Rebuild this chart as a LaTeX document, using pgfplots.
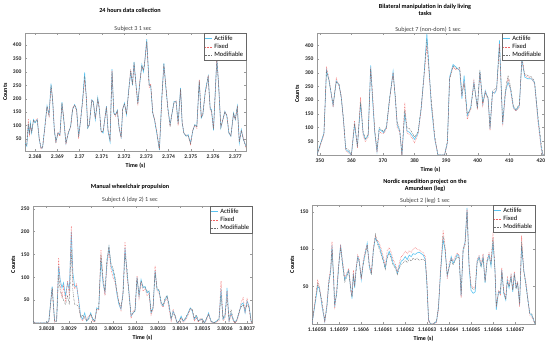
\documentclass[border=0pt]{standalone}
\usepackage{pgfplots}
\pgfplotsset{compat=1.18}
\usepackage{pgfplotstable}
\usepackage{fontspec}
\setmainfont{Carlito}
\definecolor{actblue}{RGB}{90,195,240}
\definecolor{fixred}{RGB}{240,100,100}
\definecolor{modgray}{RGB}{110,110,110}

\pgfplotstableread{
t a f m
-4.5 35 28 32
-3.7 23 30 25
-3.0 103 125 110
-2.5 66 60 70
-2.1 110 95 105
-1.5 72 80 75
-0.7 122 115 120
0 110 118 112
1.0 122 125 120
1.9 48 55 50
2.7 17 12 15
3.4 16 20 18
4.5 103 95 100
5.4 174 170 172
6.3 140 135 138
7.2 256 245 250
7.9 196 200 198
8.7 80 85 82
9.4 40 35 38
10.3 72 75 70
11.2 66 60 65
12.1 187 180 185
12.9 122 130 125
13.9 33 30 35
15.0 72 78 75
16.0 97 92 95
16.9 160 165 162
17.8 178 175 176
18.7 160 155 158
19.6 60 50 58
20.5 122 125 120
21.4 196 190 195
22.3 298 270 285
23.1 196 205 200
23.7 91 95 90
24.4 103 100 105
25.5 196 195 194
26.2 190 185 188
27.1 122 130 125
28.2 203 195 200
28.9 160 165 162
29.7 80 75 78
30.6 72 80 78
31.3 122 118 120
32.1 172 170 168
32.8 80 85 82
33.7 40 50 45
34.6 310 305 300
35.4 147 150 145
36.1 140 135 138
37.0 157 150 155
37.8 91 95 90
38.7 57 50 55
39.4 160 165 162
40.2 184 180 182
41.1 140 145 142
42.1 234 225 230
43.0 300 310 305
43.8 250 255 252
44.5 337 330 335
45.4 250 245 248
46.2 184 175 180
47.1 260 265 262
48.0 327 320 325
48.7 300 310 305
49.2 327 330 328
50.2 422 410 415
51.3 252 240 248
52.0 245 255 250
52.9 147 150 145
53.7 122 125 120
54.7 72 80 75
55.9 8 12 10
57.0 209 200 205
57.9 333 325 330
58.8 240 250 245
59.7 165 160 162
60.7 103 95 100
61.6 147 150 148
62.5 190 185 188
63.4 190 192 188
64.3 110 100 105
65.4 240 235 238
66.1 110 115 112
66.9 72 70 70
67.9 60 65 62
68.8 66 60 63
69.9 35 30 32
70.9 80 85 82
71.8 103 100 102
72.7 97 90 95
73.8 265 270 268
74.7 128 135 130
75.4 140 145 142
76.5 228 220 225
77.8 283 285 282
78.7 165 160 163
79.3 160 150 155
80.2 82 90 85
81.7 352 345 350
82.5 250 255 252
83.5 91 95 92
84.4 122 120 122
85.3 153 150 150
86.2 135 140 138
87.1 72 75 73
88.0 60 62 61
89.2 147 140 145
90.0 122 125 123
90.9 172 165 170
91.8 35 40 38
92.7 85 80 82
93.6 48 55 50
94.8 23 15 20
}\tabA

\pgfplotstableread{
t a f m
349.1 0 0 0
349.9 30 25 28
351.3 80 75 78
352.1 310 322 305
352.9 273 280 270
354.2 180 175 185
355.2 270 280 265
356.1 255 250 258
356.8 210 215 205
357.5 125 120 130
358.2 20 15 25
359.1 12 8 20
360.0 0 0 0
361.0 112 125 115
361.9 30 25 35
362.9 188 210 195
363.7 80 70 85
364.4 57 50 60
365.3 70 65 75
366.1 327 320 315
366.6 220 240 230
367.4 80 85 90
368.1 12 10 20
368.8 95 85 100
369.5 88 80 92
370.2 82 78 85
371.1 100 95 105
372.1 205 200 210
373.2 305 300 295
373.9 205 210 215
374.5 110 100 120
375.3 88 85 95
376.0 0 0 0
376.9 155 190 165
377.6 88 80 100
378.5 82 75 95
379.3 70 60 80
380.0 57 45 65
381.1 80 75 85
382.1 170 165 175
383.0 290 285 295
383.9 443 400 420
385.3 180 190 200
386.4 58 60 70
387.4 0 0 0
389.5 0 0 0
390.4 45 40 50
391.1 284 280 275
392.2 330 320 325
393.2 320 310 315
394.3 308 315 320
395.0 205 215 225
395.7 290 270 260
396.7 143 130 150
397.8 175 170 165
398.8 266 270 260
399.9 170 165 175
400.7 305 300 310
401.6 186 180 190
402.4 235 230 225
403.3 205 200 210
403.9 95 90 100
404.7 230 225 235
405.4 225 230 240
406.0 240 235 245
406.9 418 405 395
407.9 113 105 120
408.8 230 225 240
409.6 266 280 290
410.4 240 235 250
411.3 174 170 180
412.1 162 160 165
413.2 180 175 185
414.0 350 360 345
414.9 284 290 295
415.9 278 285 290
417.0 278 280 285
418.0 265 260 270
419.1 130 120 140
420.2 20 15 35
420.7 0 0 0
421.0 0 0 0
}\tabB

\pgfplotstableread{
t a f m
-6.1 4 4 4
-5.2 0 0 0
-3.0 0 0 0
0 0 0 0
1.0 4 2 3
2.5 80 75 78
3.6 4 2 3
4.5 4 5 4
5.4 125 143 105
6.1 95 85 70
6.9 77 55 60
7.6 88 80 50
8.5 59 50 40
9.4 88 92 60
10.2 73 60 40
11.1 200 212 160
11.8 110 90 70
12.6 80 75 40
13.5 80 85 40
14.4 51 45 35
15.3 15 10 12
16.2 8 5 18
17.1 22 15 10
18.0 4 8 5
18.9 11 15 8
19.8 22 18 20
20.7 8 5 10
21.6 4 2 3
22.5 33 30 30
23.4 30 28 32
24.4 140 160 150
25.3 88 95 100
26.2 66 60 70
27.1 132 125 140
28.0 165 160 168
28.9 125 118 130
29.8 113 100 120
30.7 95 90 100
31.6 62 65 70
32.5 40 45 45
33.4 30 28 35
34.3 66 70 60
35.2 165 178 150
36.1 110 100 120
37.0 66 70 60
37.9 15 10 20
38.8 22 25 20
39.7 26 30 28
40.6 100 103 98
41.5 59 55 62
42.4 95 90 92
43.3 77 70 80
44.2 80 75 78
45.1 66 60 70
46.0 70 65 68
46.9 22 18 25
47.8 33 30 35
48.7 115 125 110
49.6 73 70 75
50.5 70 65 72
51.4 44 40 46
52.3 37 35 38
53.2 51 48 55
54.1 59 55 60
55.0 37 30 40
55.9 8 5 10
56.8 26 30 20
57.7 15 12 18
58.6 0 0 0
59.5 4 2 5
60.4 15 10 12
61.3 4 2 5
62.2 8 5 10
63.3 19 15 20
64.5 33 30 32
65.4 26 28 30
66.3 8 5 10
67.2 15 12 18
68.1 4 2 5
69.0 8 10 6
69.9 8 5 10
70.8 0 0 0
71.7 8 5 10
72.7 22 20 18
73.8 4 2 5
75.0 0 0 0
76.2 4 2 3
77.4 8 5 10
78.3 75 92 60
79.2 8 5 10
80.1 15 10 20
81.0 77 70 55
81.9 4 2 8
82.8 22 20 30
83.7 8 5 10
84.6 0 0 0
85.5 8 5 10
86.4 22 20 25
87.3 40 45 35
88.2 44 55 40
89.1 22 25 30
90.0 48 55 40
90.9 37 30 35
91.8 4 2 5
92.2 0 0 0
}\tabC

\pgfplotstableread{
t a f m
-2.3 0 0 0
0.3 50 58 55
1.1 48 50 45
2.3 23 25 30
3.5 3 2 5
4.5 25 28 22
5.3 55 58 52
6.2 72 75 70
6.8 105 110 100
7.6 55 50 60
8.0 23 20 28
8.9 41 45 38
9.8 77 80 75
10.7 106 104 102
11.6 81 85 78
12.6 59 62 56
13.5 66 68 63
14.4 72 74 70
15.3 48 50 45
15.9 34 38 36
16.5 68 72 65
17.1 48 50 52
17.7 72 75 70
18.5 90 92 88
19.2 84 86 82
20.1 59 60 62
21.0 81 85 80
21.9 95 98 92
22.8 108 106 104
23.8 77 80 75
24.7 68 70 66
25.6 99 102 96
26.5 115 117 120
27.4 110 112 108
28.3 104 108 100
29.2 95 100 92
30.1 86 90 84
31.0 75 78 73
31.9 90 98 88
32.8 97 102 94
33.7 91 96 88
34.6 81 86 78
35.6 77 80 75
36.5 68 70 66
37.4 77 82 75
38.3 84 90 80
39.2 86 93 82
40.1 90 97 85
41.0 86 94 82
41.9 92 98 87
42.8 90 96 84
43.7 94 100 88
44.6 93 102 86
45.5 95 100 88
46.4 96 99 85
47.4 94 97 86
48.3 92 95 86
49.2 86 90 84
49.9 55 60 58
50.7 5 3 6
51.6 0 0 0
52.8 0 0 0
54.3 3 2 4
55.2 21 20 24
56.1 68 72 65
57.3 113 125 118
58.2 99 105 100
59.2 64 60 66
60.1 77 82 75
61.0 90 88 86
61.9 81 84 79
62.8 86 90 85
63.7 93 95 90
64.6 90 92 88
65.5 37 35 40
66.4 99 101 97
67.3 110 108 106
68.2 155 153 150
69.1 77 82 80
70.0 45 52 50
71.0 41 48 46
71.9 43 50 47
72.8 84 86 82
73.7 90 92 87
74.6 77 80 76
75.5 90 94 88
76.4 55 58 56
77.3 84 86 82
78.2 93 95 90
79.1 77 82 80
80.0 110 122 115
80.9 72 74 70
81.5 19 22 24
82.5 43 45 42
83.4 41 38 44
84.0 72 75 70
84.9 41 44 42
85.8 32 35 33
86.5 59 62 56
87.3 48 52 50
88.2 64 66 62
89.0 43 46 45
89.7 68 70 66
90.5 48 50 47
91.2 55 57 54
92.1 25 23 28
93.0 105 118 110
94.0 72 70 70
94.9 55 58 52
95.8 34 36 32
96.7 14 12 15
97.6 12 10 14
98.5 5 4 6
99.1 0 0 0
}\tabD

\pgfplotsset{
  legend image code/.code={\draw[#1] (0pt,0pt) -- (7pt,0pt);},
  act/.style={color=actblue, line width=0.6pt, no markers},
  fix/.style={color=fixred, line width=0.55pt, densely dotted, no markers},
  modi/.style={color=modgray, line width=0.4pt, dash pattern=on 1.6pt off 0.9pt on 0.4pt off 0.9pt, no markers},
  panel/.style={
    scale only axis, anchor=south west,
    axis line style={black!40, line width=0.4pt},
    every tick/.style={black!40, line width=0.3pt},
    tick align=inside, major tick length=2pt,
    tick label style={font=\fontsize{5.6}{6.5}\selectfont\bfseries, text=black!85},
    /pgf/number format/assume math mode=true,
    label style={font=\fontsize{6}{6.5}\selectfont\bfseries},
    xlabel={Time (s)}, ylabel={Counts},
    xlabel style={yshift=2pt}, ylabel style={yshift=-1pt},
    legend style={at={(1,1)}, anchor=north east, font=\fontsize{6.6}{7}\selectfont,
      draw=black!60, line width=0.3pt, inner sep=0.6pt, row sep=-2pt,
      cells={anchor=west}, fill=white},
  },
}

\begin{document}
\begin{tikzpicture}
\useasboundingbox (0,0) rectangle (550bp,346bp);
\tikzset{ttl/.style={font=\fontsize{6.2}{7}\selectfont\bfseries, align=center},
         sub/.style={font=\fontsize{6.2}{7}\selectfont, text=black!75},
         expo/.style={font=\fontsize{5.6}{6.5}\selectfont, text=black!85}}

% Panel 1
\begin{axis}[panel, at={(25bp,195bp)}, width=221bp, height=118bp,
  xmin=-4.5, xmax=94.8, ymin=5, ymax=445,
  xtick={0,10,...,90},
  xticklabels={2.368,2.369,2.37,2.371,2.372,2.373,2.374,2.375,2.376,2.377},
  ytick={50,100,...,400}]
\addplot[act] table[x=t,y=a]{\tabA};
\addplot[fix] table[x=t,y=f]{\tabA};
\addplot[modi] table[x=t,y=m]{\tabA};
\legend{Actilife,Fixed,Modifiable}
\node[expo, anchor=north west] at (rel axis cs:1,0) {X 10\textsuperscript{4}};
\end{axis}
\node[ttl] at (130bp,336bp) {24 hours data collection};
\node[sub] at (133bp,317bp) {Subject 3 1 sec};

% Panel 2
\begin{axis}[panel, at={(317bp,191bp)}, width=227bp, height=122bp,
  xmin=349.1, xmax=421, ymin=0, ymax=445,
  xtick={350,360,...,420},
  ytick={50,100,...,400}]
\addplot[act] table[x=t,y=a]{\tabB};
\addplot[fix] table[x=t,y=f]{\tabB};
\addplot[modi] table[x=t,y=m]{\tabB};
\legend{Actilife,Fixed,Modifiable}
\end{axis}
\node[ttl] at (425bp,336bp) {Bilateral manipulation in daily living\\tasks};
\node[sub] at (428bp,316bp) {Subject 7 (non-dom) 1 sec};

% Panel 3
\begin{axis}[panel, at={(33bp,23bp)}, width=219bp, height=117bp,
  xmin=-6.1, xmax=92.2, ymin=0, ymax=256,
  xtick={0,10,...,90},
  xticklabels={3.8028,3.8029,3.803,3.80031,3.8032,3.8033,3.8034,3.8035,3.8036,3.8037},
  ytick={50,100,...,250}]
\addplot[act] table[x=t,y=a]{\tabC};
\addplot[fix] table[x=t,y=f]{\tabC};
\addplot[modi] table[x=t,y=m]{\tabC};
\legend{Actilife,Fixed,Modifiable}
\node[expo, anchor=north west] at (rel axis cs:1,0) {X 10\textsuperscript{5}};
\end{axis}
\node[ttl] at (130bp,159bp) {Manual wheelchair propulsion};
\node[sub] at (130bp,146bp) {Subject 6 (day 2) 1 sec};

% Panel 4
\begin{axis}[panel, at={(312bp,22bp)}, width=223bp, height=119bp,
  xmin=-2.3, xmax=99.1, ymin=0, ymax=159,
  xtick={0,10,...,90},
  xticklabels={1.16058,1.16059,1.1606,1.16061,1.16062,1.16063,1.16064,1.16065,1.16066,1.16067},
  ytick={50,100,150}]
\addplot[act] table[x=t,y=a]{\tabD};
\addplot[fix] table[x=t,y=f]{\tabD};
\addplot[modi] table[x=t,y=m]{\tabD};
\legend{Actilife,Fixed,Modifiable}
\node[expo, anchor=north west] at ([xshift=-3bp,yshift=-7bp]rel axis cs:1,0) {X 10\textsuperscript{6}};
\end{axis}
\node[ttl] at (425bp,161bp) {Nordic expedition project on the\\Amundsen (leg)};
\node[sub] at (425bp,145bp) {Subject 2 (leg) 1 sec};
\end{tikzpicture}
\end{document}
